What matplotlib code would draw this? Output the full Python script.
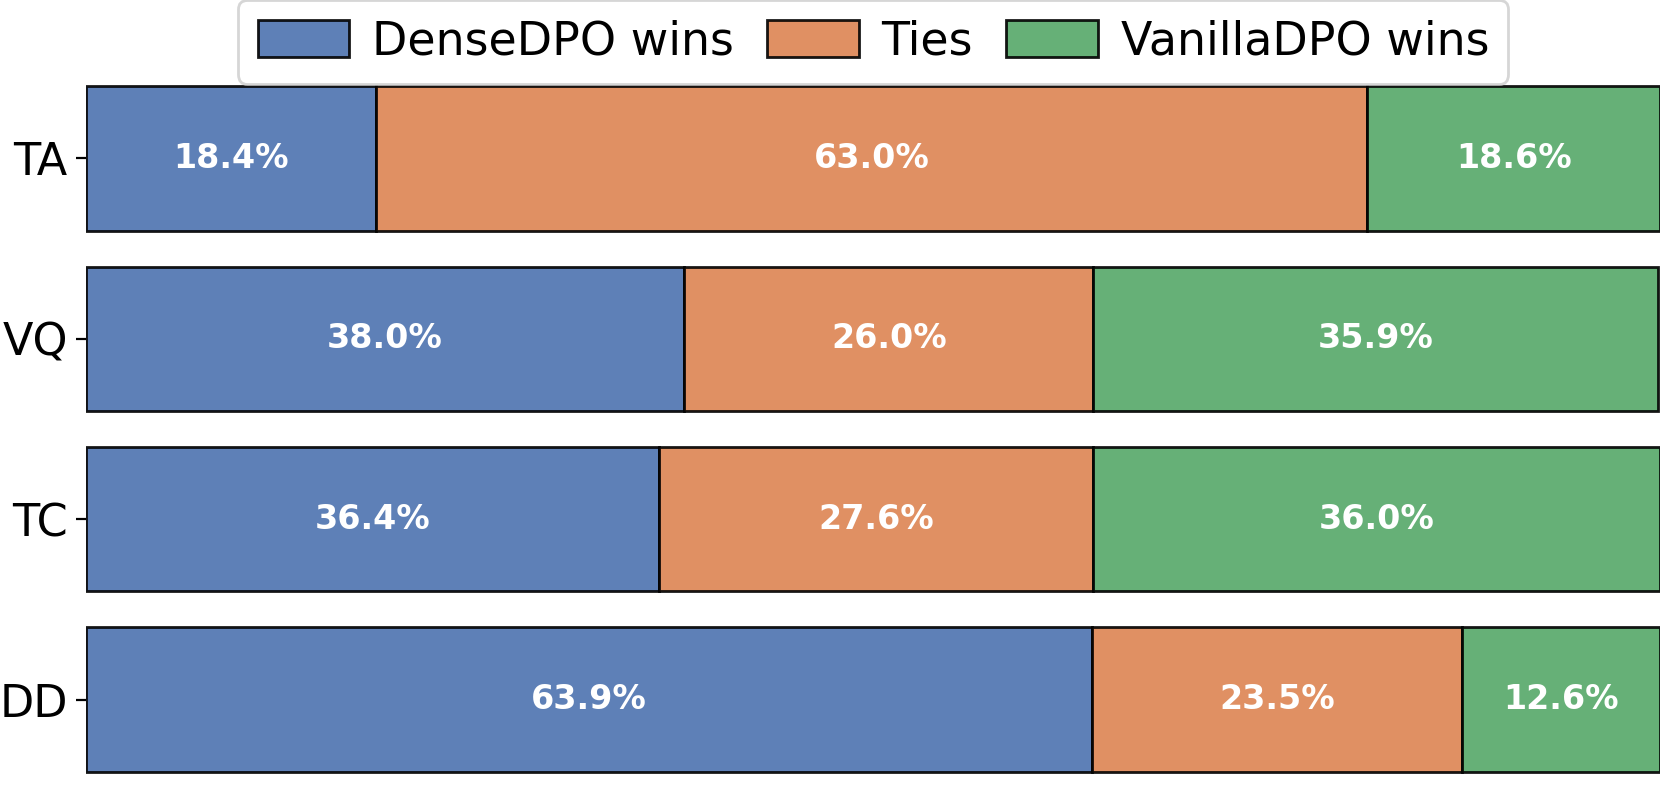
import matplotlib
matplotlib.use("Agg")
import matplotlib.pyplot as plt
import numpy as np

categories = ["TA", "VQ", "TC", "DD"]
series_names = ["DenseDPO wins", "Ties", "VanillaDPO wins"]
dense_wins = [18.4, 38.0, 36.4, 63.9]
ties = [63.0, 26.0, 27.6, 23.5]
vanilla_wins = [18.6, 35.9, 36.0, 12.6]
colors = ["#4C72B0", "#DD8452", "#55A868"]

fig = plt.figure(figsize=(8.31, 4.04), dpi=200)
ax = fig.add_axes([0.0517, 0.0025, 0.9471, 0.9331])

y = np.arange(len(categories))
left = np.zeros(len(categories))
for name, vals, col in zip(series_names, [dense_wins, ties, vanilla_wins], colors):
    vals = np.array(vals)
    ax.barh(y, vals, left=left, height=0.8, color=col, alpha=0.9,
            edgecolor="black", linewidth=1.0, label=name)
    for yi, l, v in zip(y, left, vals):
        ax.text(l + v / 2, yi, f"{v:.1f}%", ha="center", va="center",
                color="white", fontweight="bold", fontsize=12)
    left = left + vals

ax.set_yticks(y)
ax.set_yticklabels(categories, fontsize=16)
ax.tick_params(axis="y", pad=3)
ax.invert_yaxis()
ax.set_xlim(0, 100)
ax.set_xticks([])
for s in ax.spines.values():
    s.set_visible(False)

leg = fig.legend(loc="upper center", bbox_to_anchor=(0.5255, 1.0), ncol=3,
                 fontsize=16.5, frameon=True, borderaxespad=0.0,
                 handlelength=2.0, handleheight=0.85, columnspacing=0.72,
                 handletextpad=0.5, borderpad=0.42)
leg.get_frame().set_edgecolor("#cccccc")
for h in leg.legend_handles:
    h.set_alpha(0.9)

fig.savefig("out.png", dpi=200)
